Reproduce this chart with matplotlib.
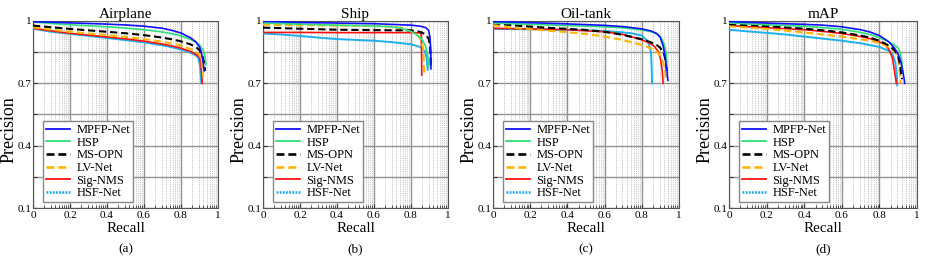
import numpy as np
import matplotlib
matplotlib.use("Agg")
import matplotlib.pyplot as plt
from matplotlib.lines import Line2D

plt.rcParams['font.family'] = ['Liberation Serif', 'DejaVu Serif']
plt.rcParams['mathtext.fontset'] = 'stix'

methods = ['MPFP-Net', 'HSP', 'MS-OPN', 'LV-Net', 'Sig-NMS', 'HSF-Net']
panel_titles = ['Airplane', 'Ship', 'Oil-tank', 'mAP']
panel_tags = ['(a)', '(b)', '(c)', '(d)']
x_ticks = [0, 0.2, 0.4, 0.6, 0.8, 1]
x_tick_labels = ['0', '0.2', '0.4', '0.6', '0.8', '1']
y_ticks = [0.1, 0.25, 0.4, 0.55, 0.7, 0.85, 1.0]
y_tick_labels = ['0.1', '', '0.4', '', '0.7', '', '1']

# ---- Airplane ----
air_mpfp_r = [0, 0.1, 0.2, 0.3, 0.4, 0.5, 0.6, 0.7, 0.75, 0.8, 0.85, 0.88, 0.9, 0.91, 0.92, 0.925]
air_mpfp_p = [0.996, 0.994, 0.991, 0.988, 0.985, 0.981, 0.975, 0.965, 0.955, 0.942, 0.92, 0.9, 0.875, 0.85, 0.80, 0.76]
air_hsp_r = [0, 0.1, 0.2, 0.3, 0.4, 0.5, 0.6, 0.7, 0.75, 0.8, 0.85, 0.88, 0.9, 0.92, 0.93, 0.935]
air_hsp_p = [0.995, 0.988, 0.982, 0.977, 0.972, 0.966, 0.958, 0.947, 0.939, 0.928, 0.912, 0.898, 0.885, 0.86, 0.83, 0.79]
air_msopn_r = [0, 0.1, 0.2, 0.3, 0.4, 0.5, 0.6, 0.7, 0.75, 0.8, 0.85, 0.88, 0.9, 0.915, 0.925, 0.93]
air_msopn_p = [0.978, 0.97, 0.962, 0.955, 0.948, 0.941, 0.932, 0.92, 0.912, 0.902, 0.888, 0.875, 0.86, 0.835, 0.80, 0.76]
air_lv_r = [0, 0.1, 0.2, 0.3, 0.4, 0.5, 0.6, 0.7, 0.75, 0.8, 0.85, 0.88, 0.9, 0.91, 0.918, 0.92]
air_lv_p = [0.97, 0.958, 0.948, 0.94, 0.932, 0.924, 0.913, 0.9, 0.892, 0.882, 0.866, 0.852, 0.838, 0.81, 0.76, 0.73]
air_sig_r = [0, 0.1, 0.2, 0.3, 0.4, 0.5, 0.6, 0.7, 0.75, 0.8, 0.85, 0.88, 0.9, 0.908, 0.913, 0.915]
air_sig_p = [0.965, 0.952, 0.941, 0.932, 0.923, 0.914, 0.903, 0.889, 0.88, 0.869, 0.854, 0.84, 0.825, 0.79, 0.73, 0.70]
air_hsf_r = [0, 0.1, 0.2, 0.3, 0.4, 0.5, 0.6, 0.7, 0.75, 0.8, 0.85, 0.88, 0.895, 0.903, 0.908, 0.91]
air_hsf_p = [0.963, 0.948, 0.938, 0.928, 0.918, 0.908, 0.897, 0.883, 0.874, 0.863, 0.848, 0.835, 0.82, 0.78, 0.72, 0.70]

# ---- Ship ----
ship_mpfp_r = [0, 0.2, 0.4, 0.6, 0.8, 0.85, 0.88, 0.895, 0.903, 0.907, 0.908]
ship_mpfp_p = [0.998, 0.993, 0.99, 0.987, 0.98, 0.975, 0.968, 0.955, 0.92, 0.85, 0.77]
ship_hsp_r = [0, 0.2, 0.4, 0.6, 0.7, 0.75, 0.8, 0.83, 0.86, 0.88, 0.89, 0.895]
ship_hsp_p = [0.99, 0.985, 0.98, 0.976, 0.972, 0.965, 0.95, 0.935, 0.91, 0.875, 0.84, 0.78]
ship_msopn_r = [0, 0.2, 0.4, 0.6, 0.8, 0.85, 0.88, 0.895, 0.903, 0.906, 0.907]
ship_msopn_p = [0.968, 0.963, 0.958, 0.956, 0.955, 0.948, 0.935, 0.915, 0.88, 0.83, 0.78]
ship_lv_r = [0, 0.2, 0.4, 0.6, 0.7, 0.75, 0.8, 0.83, 0.85, 0.865, 0.87, 0.872]
ship_lv_p = [0.982, 0.98, 0.978, 0.976, 0.972, 0.966, 0.952, 0.935, 0.915, 0.87, 0.80, 0.74]
ship_sig_r = [0, 0.2, 0.4, 0.6, 0.8, 0.84, 0.855, 0.857, 0.858]
ship_sig_p = [0.945, 0.945, 0.944, 0.944, 0.944, 0.943, 0.94, 0.85, 0.74]
ship_hsf_r = [0, 0.1, 0.2, 0.3, 0.4, 0.5, 0.6, 0.7, 0.8, 0.85, 0.875, 0.885, 0.89]
ship_hsf_p = [0.94, 0.935, 0.928, 0.92, 0.913, 0.909, 0.905, 0.898, 0.888, 0.875, 0.855, 0.82, 0.765]

# ---- Oil-tank ----
oil_mpfp_r = [0, 0.2, 0.4, 0.6, 0.7, 0.8, 0.85, 0.88, 0.9, 0.915, 0.925, 0.935, 0.94]
oil_mpfp_p = [0.997, 0.992, 0.986, 0.979, 0.973, 0.962, 0.952, 0.94, 0.92, 0.88, 0.83, 0.76, 0.715]
oil_hsp_r = [0, 0.2, 0.4, 0.6, 0.7, 0.8, 0.85, 0.88, 0.9, 0.92, 0.93, 0.935]
oil_hsp_p = [0.99, 0.984, 0.978, 0.972, 0.967, 0.957, 0.948, 0.938, 0.925, 0.89, 0.85, 0.80]
oil_msopn_r = [0, 0.1, 0.2, 0.3, 0.4, 0.5, 0.6, 0.7, 0.8, 0.85, 0.88, 0.9, 0.92, 0.93, 0.935]
oil_msopn_p = [0.99, 0.98, 0.973, 0.967, 0.962, 0.957, 0.948, 0.933, 0.912, 0.897, 0.885, 0.87, 0.84, 0.80, 0.75]
oil_lv_r = [0, 0.1, 0.2, 0.3, 0.4, 0.5, 0.6, 0.7, 0.8, 0.85, 0.88, 0.9, 0.915, 0.925, 0.93]
oil_lv_p = [0.98, 0.968, 0.96, 0.953, 0.946, 0.938, 0.925, 0.908, 0.885, 0.868, 0.852, 0.835, 0.80, 0.76, 0.72]
oil_sig_r = [0, 0.2, 0.4, 0.6, 0.7, 0.8, 0.85, 0.87, 0.89, 0.9, 0.91, 0.915]
oil_sig_p = [0.965, 0.962, 0.958, 0.948, 0.935, 0.91, 0.89, 0.875, 0.85, 0.82, 0.76, 0.70]
oil_hsf_r = [0, 0.2, 0.4, 0.6, 0.7, 0.75, 0.8, 0.83, 0.845, 0.85, 0.853, 0.855]
oil_hsf_p = [0.962, 0.96, 0.957, 0.952, 0.945, 0.94, 0.93, 0.905, 0.87, 0.84, 0.78, 0.70]

# ---- mAP ----
map_mpfp_r = [0, 0.2, 0.4, 0.5, 0.6, 0.7, 0.75, 0.8, 0.85, 0.88, 0.9, 0.915, 0.93, 0.935]
map_mpfp_p = [0.997, 0.99, 0.984, 0.98, 0.972, 0.958, 0.947, 0.93, 0.9, 0.87, 0.84, 0.80, 0.73, 0.70]
map_hsp_r = [0, 0.2, 0.4, 0.5, 0.6, 0.7, 0.75, 0.8, 0.85, 0.88, 0.9, 0.91, 0.92, 0.925]
map_hsp_p = [0.99, 0.982, 0.975, 0.968, 0.96, 0.945, 0.935, 0.92, 0.9, 0.885, 0.87, 0.85, 0.80, 0.75]
map_msopn_r = [0, 0.2, 0.4, 0.5, 0.6, 0.7, 0.75, 0.8, 0.85, 0.88, 0.9, 0.91, 0.915, 0.92]
map_msopn_p = [0.985, 0.975, 0.963, 0.955, 0.945, 0.93, 0.92, 0.905, 0.882, 0.86, 0.83, 0.79, 0.75, 0.72]
map_lv_r = [0, 0.2, 0.4, 0.5, 0.6, 0.7, 0.75, 0.8, 0.85, 0.88, 0.9, 0.905, 0.91, 0.912]
map_lv_p = [0.975, 0.962, 0.945, 0.935, 0.925, 0.912, 0.905, 0.895, 0.875, 0.855, 0.825, 0.79, 0.73, 0.70]
map_sig_r = [0, 0.2, 0.4, 0.5, 0.6, 0.7, 0.75, 0.8, 0.83, 0.85, 0.87, 0.88, 0.89]
map_sig_p = [0.978, 0.968, 0.958, 0.95, 0.94, 0.925, 0.915, 0.90, 0.885, 0.865, 0.82, 0.76, 0.70]
map_hsf_r = [0, 0.1, 0.2, 0.3, 0.4, 0.5, 0.6, 0.7, 0.8, 0.85, 0.87, 0.885, 0.892, 0.895]
map_hsf_p = [0.958, 0.95, 0.943, 0.935, 0.925, 0.915, 0.905, 0.893, 0.875, 0.857, 0.84, 0.80, 0.74, 0.69]

panels = [
    [(air_mpfp_r, air_mpfp_p), (air_hsp_r, air_hsp_p), (air_msopn_r, air_msopn_p),
     (air_lv_r, air_lv_p), (air_sig_r, air_sig_p), (air_hsf_r, air_hsf_p)],
    [(ship_mpfp_r, ship_mpfp_p), (ship_hsp_r, ship_hsp_p), (ship_msopn_r, ship_msopn_p),
     (ship_lv_r, ship_lv_p), (ship_sig_r, ship_sig_p), (ship_hsf_r, ship_hsf_p)],
    [(oil_mpfp_r, oil_mpfp_p), (oil_hsp_r, oil_hsp_p), (oil_msopn_r, oil_msopn_p),
     (oil_lv_r, oil_lv_p), (oil_sig_r, oil_sig_p), (oil_hsf_r, oil_hsf_p)],
    [(map_mpfp_r, map_mpfp_p), (map_hsp_r, map_hsp_p), (map_msopn_r, map_msopn_p),
     (map_lv_r, map_lv_p), (map_sig_r, map_sig_p), (map_hsf_r, map_hsf_p)],
]

colors = ['#1010ff', '#2ee07a', '#000000', '#ffb400', '#ff1010', '#1fb0f0']
styles = ['-', '-', (0, (3.5, 1.8)), (0, (3.5, 1.8)), '-', '-']
widths = [1.2, 1.2, 1.5, 1.5, 1.2, 1.4]
leg_styles = ['-', '-', (0, (3.0, 1.5)), (0, (3.0, 1.5)), '-', (0, (0.7, 0.5))]
leg_widths = [1.3, 1.3, 1.9, 1.9, 1.3, 1.9]

W, H = 927, 261
fig = plt.figure(figsize=(W / 100, H / 100), dpi=100)
axes_px = [(33, 185), (263, 185), (493, 186), (729, 188)]
top_px, bot_px = 21, 208

minor_x = []
for base in [0, 0.2, 0.4, 0.6, 0.8]:
    for k in range(2, 10):
        minor_x.append(base + 0.2 * np.log10(k))

for i, (l, w) in enumerate(axes_px):
    ax = fig.add_axes([l / W, 1 - bot_px / H, w / W, (bot_px - top_px) / H])
    ax.set_xlim(0, 1)
    ax.set_ylim(0.1, 1.0)
    ax.set_xticks(x_ticks)
    ax.set_xticklabels(x_tick_labels)
    ax.set_yticks(y_ticks)
    ax.set_yticklabels(y_tick_labels)
    ax.set_xticks(minor_x, minor=True)
    ax.grid(True, which='major', color='#939393', linewidth=1.0, linestyle='-')
    ax.grid(True, which='minor', axis='x', color='#b4b4b4', linewidth=0.6, linestyle=(0, (1, 1.2)))
    ax.set_axisbelow(True)
    ax.tick_params(which='both', direction='in', labelsize=8.0, pad=2.5, colors='#333333',
                   labelcolor='black')
    ax.tick_params(axis='y', pad=1.0)
    ax.tick_params(which='major', length=3)
    ax.tick_params(which='minor', length=2)
    for s in ax.spines.values():
        s.set_color('#555555')
        s.set_linewidth(0.8)
    for j, (r, p) in enumerate(panels[i]):
        ax.plot(r, p, color=colors[j], linestyle=styles[j], linewidth=widths[j], zorder=3 + (5 - j) * 0.1)
    ax.set_title(panel_titles[i], fontsize=11, pad=2.5)
    ax.set_xlabel('Recall', fontsize=10.8, labelpad=1)
    ax.set_ylabel('Precision', fontsize=13)
    ax.yaxis.set_label_coords(-15.7 / w, 0.42)
    handles = [Line2D([0], [0], color=colors[j], linestyle=leg_styles[j], linewidth=leg_widths[j])
               for j in range(6)]
    ax.legend(handles, methods, loc='lower left', bbox_to_anchor=(0.055, 0.03), fontsize=9,
              frameon=True, fancybox=False, edgecolor='#888888', framealpha=1,
              handlelength=1.9, handletextpad=0.5, borderpad=0.25, labelspacing=0.05,
              borderaxespad=0)
    fig.text((l + w / 2) / W, 1 - 249 / H, panel_tags[i], ha='center', va='center', fontsize=9.5)

fig.savefig('out.png', dpi=100)
